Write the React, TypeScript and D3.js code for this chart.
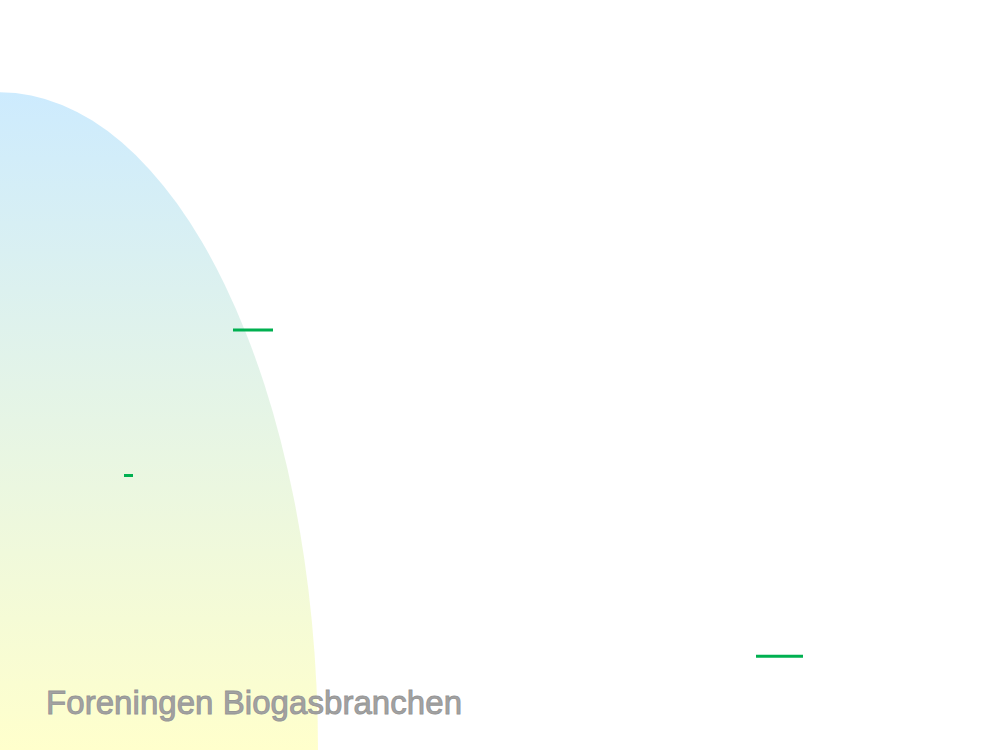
import { useEffect, useRef } from 'react'
import * as d3 from 'd3'

// Short green marks, in percent of the plot width / height
const markStart = [23.3, 12.4, 75.6]
const markEnd = [27.3, 13.3, 80.3]
const markLevel = [44.0, 63.4, 87.5]

// Background arc (quarter ellipse anchored bottom-left)
const arcRadiusX = [31.8]
const arcRadiusY = [87.7]

const gradientStops = ['#cdebfe', '#ffffcc']
const footerText = 'Foreningen Biogasbranchen'

export default function App() {
  const svgRef = useRef<SVGSVGElement>(null)
  const width = 1000
  const height = 750

  useEffect(() => {
    if (!svgRef.current) return
    const svg = d3.select(svgRef.current)
    svg.selectAll('*').remove()

    const x = d3.scaleLinear().domain([0, 100]).range([0, width])
    const y = d3.scaleLinear().domain([0, 100]).range([0, height])

    const defs = svg.append('defs')
    const gradient = defs
      .append('linearGradient')
      .attr('id', 'bg-gradient')
      .attr('gradientUnits', 'userSpaceOnUse')
      .attr('x1', 0)
      .attr('x2', 0)
      .attr('y1', y(100 - arcRadiusY[0]))
      .attr('y2', y(100))
    gradientStops.forEach((c, i) => {
      gradient
        .append('stop')
        .attr('offset', `${(i / (gradientStops.length - 1)) * 100}%`)
        .attr('stop-color', c)
    })

    svg
      .append('rect')
      .attr('width', width)
      .attr('height', height)
      .attr('fill', '#fff')

    svg
      .selectAll('ellipse')
      .data(arcRadiusX)
      .enter()
      .append('ellipse')
      .attr('cx', x(0))
      .attr('cy', y(100))
      .attr('rx', (d) => x(d) - x(0))
      .attr('ry', (_, i) => y(arcRadiusY[i]) - y(0))
      .attr('fill', 'url(#bg-gradient)')

    // Green marks
    svg
      .selectAll('line.mark')
      .data(markLevel)
      .enter()
      .append('line')
      .attr('class', 'mark')
      .attr('x1', (_, i) => x(markStart[i]))
      .attr('x2', (_, i) => x(markEnd[i]))
      .attr('y1', (d) => y(d))
      .attr('y2', (d) => y(d))
      .attr('stroke', '#00b050')
      .attr('stroke-width', 3)

    // Footer
    svg
      .append('text')
      .attr('x', 46)
      .attr('y', 714)
      .attr('font-family', 'Liberation Sans, Arial, sans-serif')
      .attr('font-size', 33)
      .attr('fill', '#a2a2a2')
      .attr('stroke', '#969696')
      .attr('stroke-width', 0.9)
      .attr('textLength', 416)
      .text(footerText)
  }, [])

  return (
    <svg
      ref={svgRef}
      width={width}
      height={height}
      style={{ position: 'fixed', left: 0, top: 0, display: 'block' }}
    />
  )
}
